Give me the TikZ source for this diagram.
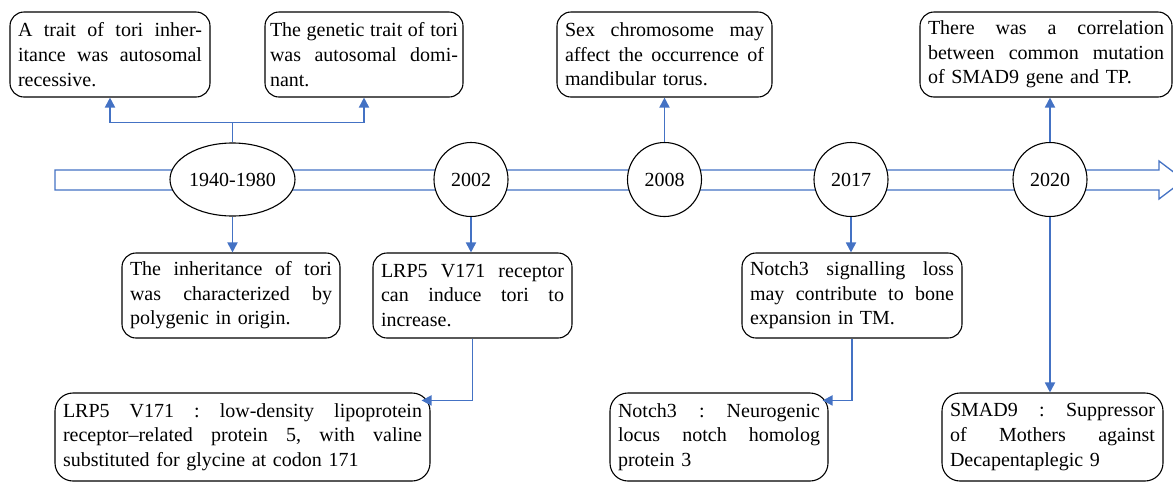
\documentclass[tikz,border=0pt]{standalone}
\usepackage{fontspec}
\setmainfont{Liberation Serif}
\usetikzlibrary{arrows.meta,shapes.geometric,calc}
\definecolor{lineblue}{RGB}{68,114,196}
\setlength{\parindent}{0pt}
\newcommand{\bw}{100pt}
\newcommand{\jline}[1]{\hbox to \bw{\frenchspacing\spaceskip=\fontdimen2\font plus 1fil\relax
  \xspaceskip=\fontdimen2\font plus 1fil\relax #1}\par}
\begin{document}
\begin{tikzpicture}[x=1pt,y=-1pt,
  txtbox/.style={draw=black, line width=1.1pt, rounded corners=14pt, fill=white,
    inner xsep=8pt, inner ysep=0pt, font=\fontsize{20}{24.6}\selectfont, minimum height=85pt},
  lowbox/.style={txtbox, rounded corners=18pt, minimum height=88pt},
  tw/.style={text width=#1, execute at begin node={\renewcommand{\bw}{#1}}},
  yearnode/.style={draw=black, line width=1.1pt, fill=white, font=\fontsize{20}{24}\selectfont, inner sep=0pt},
  conn/.style={draw=lineblue, line width=1.8pt},
  arr/.style={conn, -{Triangle[length=10pt,width=10pt]}},
]
\useasboundingbox (0,0) rectangle (1173,483);

% timeline band
\draw[lineblue, line width=1.3pt, fill=white] (55,170) -- (1159,170) -- (1159,161) -- (1184,180)
  -- (1159,199) -- (1159,190) -- (55,190) -- cycle;

% year nodes
\node[yearnode, ellipse, minimum width=125pt, minimum height=73pt] (y1) at (232.5,179.5) {1940-1980};
\node[yearnode, circle, minimum size=74pt] (y2) at (471,179.5) {2002};
\node[yearnode, circle, minimum size=74pt] (y3) at (664.5,179.5) {2008};
\node[yearnode, circle, minimum size=74pt] (y4) at (851,179.5) {2017};
\node[yearnode, circle, minimum size=74pt] (y5) at (1050,179.5) {2020};

% top boxes
\node[txtbox, tw=184pt] (A) at (110,54.5)
  {\jline{A trait of tori inher-}\jline{itance was autosomal}recessive.};
\node[txtbox, inner xsep=5pt, tw=188pt] (B) at (364,54.5)
  {\jline{The genetic trait of tori}\jline{was autosomal domi-}nant.};
\node[txtbox, tw=199pt] (C) at (664.5,54.5)
  {\jline{Sex chromosome may}\jline{affect the occurrence of}mandibular torus.};
\node[txtbox, tw=236pt] (D) at (1046,54.5)
  {\jline{There was a correlation}\jline{between common mutation}of SMAD9 gene and TP.};

% middle boxes
\node[txtbox, tw=202pt] (E) at (231,295.5)
  {\jline{The inheritance of tori}\jline{was characterized by}polygenic in origin.};
\node[txtbox, tw=183pt] (F) at (472.5,295.5)
  {\jline{LRP5 V171 receptor}\jline{can induce tori to}increase.};
\node[txtbox, tw=204pt] (H) at (852,295.5)
  {\jline{Notch3 signalling loss}\jline{may contribute to bone}expansion in TM.};

% bottom boxes
\node[lowbox, tw=359pt] (G) at (242.5,437)
  {\jline{LRP5 V171 : low-density lipoprotein}\jline{receptor--related protein 5, with valine}substituted for glycine at codon 171};
\node[lowbox, tw=202pt] (I) at (719,437)
  {\jline{Notch3 : Neurogenic}\jline{locus notch homolog}protein 3};
\node[lowbox, tw=205pt] (J) at (1052.5,437)
  {\jline{SMAD9 : Suppressor}\jline{of Mothers against}Decapentaplegic 9};

% connectors
\draw[conn] (y1.north) -- ++(0,-20) coordinate (br);
\draw[arr] (br) -| (A.south);
\draw[arr] (br) -| (B.south);
\draw[arr] (y3.north) -- (C.south);
\draw[arr] (y5.north) -- (y5.north |- D.south);
\draw[arr] (y1.south) -- (y1.south |- E.north);
\draw[arr] (y2.south) -- (y2.south |- F.north);
\draw[arr] (F.south) |- ($(G.north east)+(-9,8)$);
\draw[arr] (y4.south) -- (y4.south |- H.north);
\draw[arr] (H.south) |- ($(I.north east)+(-6,8)$);
\draw[arr] (y5.south) -- (y5.south |- J.north);
\end{tikzpicture}
\end{document}
